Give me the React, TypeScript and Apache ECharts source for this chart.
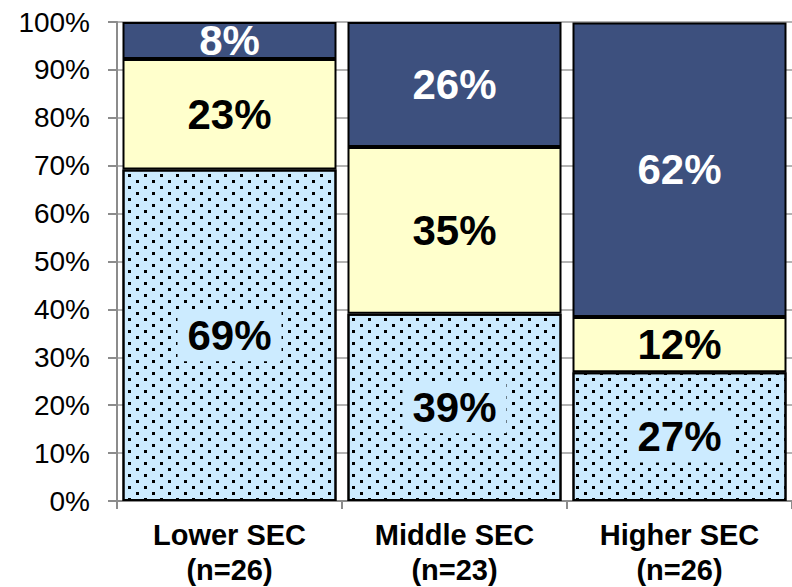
import React, { useEffect, useRef } from "react";
import * as echarts from "echarts";

const categories = ["Lower SEC\n(n=26)", "Middle SEC\n(n=23)", "Higher SEC\n(n=26)"];
const bottomValues = [69.2, 39.1, 26.9];
const middleValues = [23.1, 34.8, 11.5];
const topValues = [7.7, 26.1, 61.5];
const yTicks = [0, 10, 20, 30, 40, 50, 60, 70, 80, 90, 100];

const FONT = 'Arial, "Liberation Sans", sans-serif';
const LIGHT_BLUE = "#CCEBFF";
const YELLOW = "#FFFFCC";
const DARK_BLUE = "#3D507E";

export default function App() {
  const ref = useRef<HTMLDivElement>(null);
  useEffect(() => {
    if (!ref.current) return;
    const chart = echarts.init(ref.current, null, { renderer: "svg" });
    const labelBase = {
      show: true,
      position: "inside",
      fontFamily: FONT,
      fontSize: 42,
      fontWeight: "bold",
      formatter: (p: any) => Math.round(p.value) + "%",
    };
    chart.setOption({
      animation: false,
      backgroundColor: "#fff",
      grid: { left: 117, right: -5, top: 22, bottom: 84 },
      xAxis: {
        type: "category",
        data: categories,
        axisLine: { show: true, lineStyle: { color: "#8c8c8c", width: 2 } },
        axisTick: { show: true, length: 8, lineStyle: { color: "#8c8c8c", width: 2 } },
        axisLabel: {
          margin: 16,
          fontFamily: FONT,
          fontSize: 29,
          fontWeight: "bold",
          color: "#000",
          lineHeight: 35,
        },
      },
      yAxis: {
        type: "value",
        min: yTicks[0],
        max: yTicks[yTicks.length - 1],
        interval: 10,
        axisLine: { show: true, lineStyle: { color: "#8c8c8c", width: 2 } },
        axisTick: { show: true, length: 9, lineStyle: { color: "#8c8c8c", width: 2 } },
        splitLine: { show: true, lineStyle: { color: "#9a9a9a", width: 1.5 } },
        axisLabel: {
          margin: 27,
          fontFamily: FONT,
          fontSize: 28,
          color: "#000",
          formatter: "{value}%",
        },
      },
      series: [
        {
          type: "bar",
          stack: "s",
          data: bottomValues,
          barWidth: 214,
          itemStyle: {
            color: LIGHT_BLUE,
            borderColor: "#000",
            borderWidth: 2,
            decal: {
              symbol: "rect",
              symbolSize: 1,
              color: "#000",
              backgroundColor: LIGHT_BLUE,
              dashArrayX: [[2.7, 12.3], [0, 7.5, 2.7, 4.8]],
              dashArrayY: [2.7, 2.8],
              rotation: 0,
            },
          },
          label: {
            ...labelBase,
            color: "#000",
            backgroundColor: LIGHT_BLUE,
            padding: [6, 10, 4, 10],
          },
        },
        {
          type: "bar",
          stack: "s",
          data: middleValues,
          barWidth: 214,
          itemStyle: { color: YELLOW, borderColor: "#000", borderWidth: 2 },
          label: { ...labelBase, color: "#000" },
        },
        {
          type: "bar",
          stack: "s",
          data: topValues,
          barWidth: 214,
          itemStyle: { color: DARK_BLUE, borderColor: "#000", borderWidth: 2 },
          label: { ...labelBase, color: "#fff" },
        },
      ],
    });
    return () => chart.dispose();
  }, []);
  return (
    <div
      ref={ref}
      style={{ position: "fixed", left: 0, top: 0, width: 792, height: 587 }}
    />
  );
}
